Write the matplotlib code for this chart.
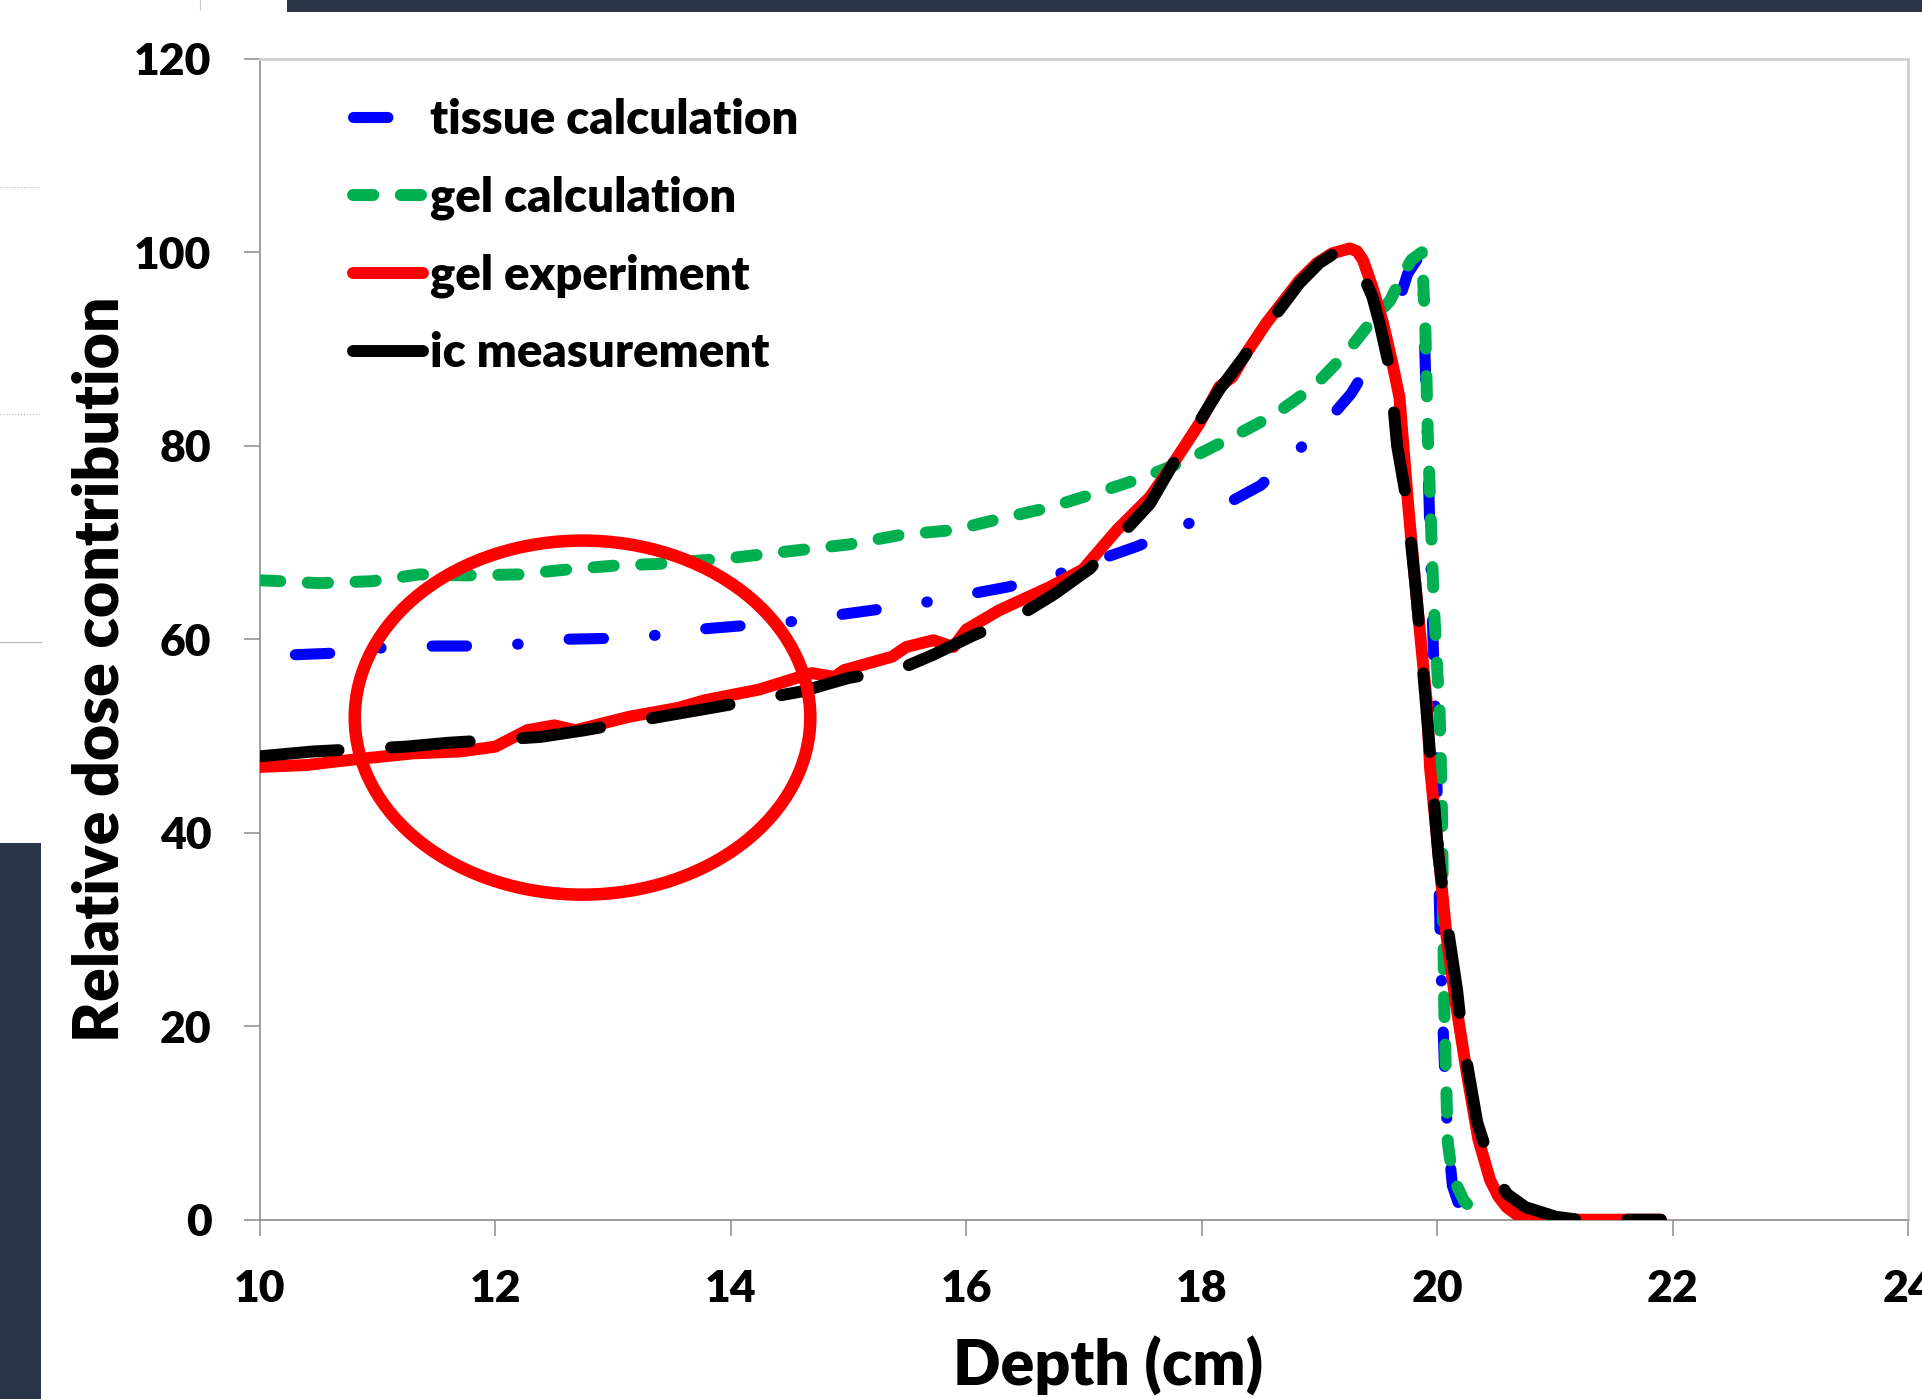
import matplotlib
matplotlib.use('Agg')
import matplotlib.pyplot as plt
from matplotlib.patches import Ellipse, Rectangle
from matplotlib.lines import Line2D

# ---------------- data ----------------
tissue_x = [10.3, 10.7, 11.1, 11.5, 11.8, 12.2, 12.6, 13.0, 13.35, 13.7, 14.1, 14.5, 14.9, 15.2,
            15.6, 16.0, 16.35, 16.75, 17.1, 17.45, 17.8, 18.15, 18.5, 18.75, 19.05, 19.27, 19.48,
            19.65, 19.75, 19.87, 19.9, 19.93, 19.96, 19.99, 20.01, 20.03, 20.05, 20.07, 20.09,
            20.13, 20.2, 20.3]
tissue_y = [58.4, 58.6, 59.2, 59.3, 59.3, 59.5, 60.0, 60.1, 60.4, 61.0, 61.4, 61.8, 62.5, 63.0,
            63.7, 64.6, 65.4, 66.6, 68.1, 69.6, 71.4, 73.6, 75.9, 78.7, 82.3, 85.4, 89.6,
            94.0, 97.8, 100.0, 88.0, 75.0, 62.0, 50.0, 38.0, 27.0, 20.0, 13.4, 8.5,
            3.5, 1.0, 0.0]

gel_calc_x = [10.0, 10.5, 10.95, 11.35, 11.75, 12.2, 12.6, 13.0, 13.4, 14.0, 14.5, 15.0, 15.45,
              15.9, 16.3, 16.7, 17.1, 17.5, 17.87, 18.26, 18.63, 18.95, 19.23, 19.45, 19.6,
              19.7, 19.78, 19.87, 19.9, 19.92, 19.95, 19.97, 20.0, 20.02, 20.04, 20.06, 20.09,
              20.13, 20.23, 20.4]
gel_calc_y = [66.1, 65.8, 66.0, 66.7, 66.6, 66.7, 67.2, 67.6, 67.8, 68.4, 69.1, 69.8, 70.8,
              71.3, 72.5, 73.6, 75.1, 76.7, 78.5, 80.9, 83.3, 86.1, 89.6, 93.0, 95.0,
              97.5, 99.2, 100.0, 92.0, 81.4, 71.0, 64.0, 57.0, 53.0, 43.0, 22.0, 8.0,
              4.5, 1.9, 0.0]

gel_exp_x = [10.0, 10.4, 10.6, 10.9, 11.3, 11.7, 12.0, 12.27, 12.5, 12.68, 13.14, 13.55, 13.78,
             14.24, 14.69, 14.88, 14.96, 15.37, 15.49, 15.72, 15.89, 16.0, 16.28, 16.71, 16.99,
             17.28, 17.56, 17.76, 17.98, 18.15, 18.26, 18.38, 18.55, 18.83, 18.98, 19.11, 19.26,
             19.32, 19.37, 19.45, 19.54, 19.62, 19.68, 19.75, 19.82, 19.91, 19.94, 20.01, 20.08,
             20.16, 20.25, 20.35, 20.45, 20.52, 20.59, 20.7, 20.85, 21.9]
gel_exp_y = [46.8, 47.0, 47.3, 47.7, 48.2, 48.4, 48.9, 50.6, 51.1, 50.6, 52.0, 52.9, 53.7,
             54.8, 56.5, 56.1, 56.8, 58.2, 59.2, 59.9, 59.2, 61.0, 63.0, 65.4, 67.2,
             71.3, 74.7, 78.2, 82.3, 86.1, 87.1, 89.6, 92.7, 97.1, 98.9, 99.9, 100.4,
             100.1, 99.2, 96.4, 92.7, 88.5, 85.0, 74.4, 65.0, 53.7, 46.7, 38.0, 29.3,
             22.3, 15.3, 8.3, 4.1, 2.4, 1.3, 0.3, 0.0, 0.0]

ic_x = [10.0, 10.45, 11.24, 11.6, 12.38, 12.76, 13.5, 13.88, 14.6, 15.0, 15.43, 15.72, 16.06,
        16.43, 16.74, 17.05, 17.56, 17.76, 18.15, 18.39, 18.83, 19.0, 19.14, 19.22, 19.34,
        19.45, 19.51, 19.6, 19.66, 19.74, 19.82, 19.9, 19.95, 20.01, 20.08, 20.17, 20.21,
        20.34, 20.46, 20.59, 20.75, 21.01, 21.2, 21.9]
ic_y = [47.9, 48.4, 48.9, 49.3, 49.9, 50.6, 52.2, 53.0, 54.6, 56.0, 56.9, 58.4, 60.4,
        62.3, 64.6, 67.3, 74.0, 78.2, 85.8, 89.7, 96.8, 98.9, 100.0, 99.8, 98.5,
        95.4, 92.7, 87.8, 80.0, 74.4, 65.1, 54.0, 46.7, 37.7, 31.0, 23.7, 19.2,
        10.1, 5.5, 2.7, 1.3, 0.3, 0.0, 0.0]

series_labels = ["tissue calculation", "gel calculation", "gel experiment", "ic measurement"]
x_ticks = [10, 12, 14, 16, 18, 20, 22, 24]
y_ticks = [0, 20, 40, 60, 80, 100, 120]
x_label = "Depth (cm)"
y_label = "Relative dose contribution"

# highlight ellipse (data coordinates): centre, width, height
ellipse_center = (12.74, 51.9)
ellipse_width = 3.87
ellipse_height = 36.6

# ---------------- style ----------------
W, H, DPI = 1922, 1399, 100
plt.rcParams['font.family'] = ['Lato', 'DejaVu Sans']
WEIGHT = 'heavy'
plt.rcParams['font.weight'] = WEIGHT

NAVY = '#283447'
fig = plt.figure(figsize=(W / DPI, H / DPI), dpi=DPI)
fig.patch.set_facecolor('white')

# screenshot decorations
fig.add_artist(Rectangle((287 / W, 1 - 12 / H), 1 - 287 / W, 12 / H, transform=fig.transFigure,
                         facecolor=NAVY, edgecolor='none'))
fig.add_artist(Rectangle((0, 0), 41 / W, 1 - 843 / H, transform=fig.transFigure,
                         facecolor=NAVY, edgecolor='none'))
fig.add_artist(Line2D([200 / W, 200 / W], [1 - 10 / H, 1], transform=fig.transFigure,
                      color='#cccccc', lw=0.8))
for yy, ls in [(187, ':'), (414, ':'), (642, '-')]:
    fig.add_artist(Line2D([0, 41 / W], [1 - yy / H, 1 - yy / H], transform=fig.transFigure,
                          color='#b5b5b5', lw=0.8, ls=ls))

L, R, T, B = 260, 1908, 58.8, 1219.7
ax = fig.add_axes([L / W, 1 - B / H, (R - L) / W, (B - T) / H])

LW = 8.6
ax.plot(tissue_x, tissue_y, color='#0000ff', lw=8.0,
        linestyle=(0, (3.1, 4.6, 0.05, 4.6)), dash_capstyle='round', solid_capstyle='round',
        solid_joinstyle='round', label=series_labels[0], zorder=2)
ax.plot(gel_calc_x, gel_calc_y, color='#00b050', lw=LW,
        linestyle=(0, (1.7, 2.3)), dash_capstyle='round', solid_capstyle='round',
        dash_joinstyle='round', label=series_labels[1], zorder=3)
ax.plot(gel_exp_x, gel_exp_y, color='#ff0000', lw=LW, solid_capstyle='round',
        solid_joinstyle='round', label=series_labels[2], zorder=4)
ax.plot(ic_x, ic_y, color='#000000', lw=LW,
        linestyle=(0, (6.6, 4.4)), dash_capstyle='round', solid_capstyle='round',
        dash_joinstyle='round', label=series_labels[3], zorder=5)

ax.add_patch(Ellipse(ellipse_center, ellipse_width, ellipse_height, fill=False,
                     edgecolor='#ff0000', lw=9, zorder=6))

ax.set_xlim(10, 24)
ax.set_ylim(0, 120)
ax.set_xticks(x_ticks)
ax.set_yticks(y_ticks)
ax.set_xticklabels([str(v) for v in x_ticks])
ax.set_yticklabels([str(v) for v in y_ticks])
ax.tick_params(axis='both', direction='out', length=11.5, width=1.1, color='#8c8c8c',
               labelsize=32)
ax.tick_params(axis='y', pad=23.5)
ax.tick_params(axis='x', pad=24)
for lab in ax.get_xticklabels() + ax.get_yticklabels():
    lab.set_fontweight(WEIGHT)

for s in ['left', 'bottom']:
    ax.spines[s].set_color('#8c8c8c')
    ax.spines[s].set_linewidth(1.2)
for s in ['top', 'right']:
    ax.spines[s].set_color('#cfcfcf')
    ax.spines[s].set_linewidth(2.0)

leg = ax.legend(loc='center left', bbox_to_anchor=(353 / W, 1 - 236.5 / H),
                bbox_transform=fig.transFigure, frameon=False, fontsize=34.0,
                handlelength=1.48, handletextpad=0.15, labelspacing=0.71,
                borderpad=0, borderaxespad=0)
for t in leg.get_texts():
    t.set_fontweight(WEIGHT)

fig.text(1108 / W, 1 - 1386 / H, x_label, ha='center', va='baseline', fontsize=45,
         fontweight=WEIGHT)
fig.text(119 / W, 1 - 669 / H, y_label, ha='center', va='baseline', rotation=90,
         rotation_mode='anchor', fontsize=45, fontweight=WEIGHT)

fig.savefig('out.png', dpi=DPI)
